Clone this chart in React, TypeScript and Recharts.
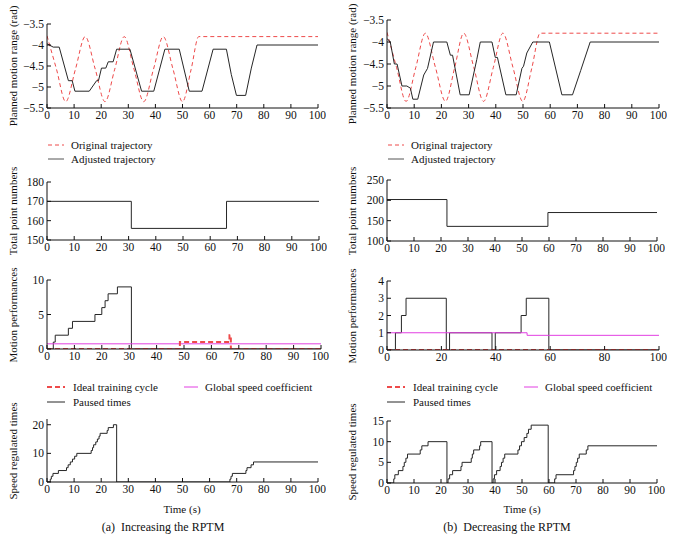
import React from 'react';
import { LineChart, Line, XAxis, YAxis } from 'recharts';

// ---- planned motion range (rad) ----
const leftOrigT = [0, 3.5, 6.9, 10.5, 14.1, 17.8, 21.4, 25, 28.5, 32.1, 35.7, 39.3, 42.9, 46.5, 50, 53.2, 56, 100];
const leftOrigV = [-3.78, -4.575, -5.35, -4.575, -3.8, -4.575, -5.35, -4.575, -3.8, -4.575, -5.35, -4.575, -3.8, -4.575, -5.35, -4.575, -3.8, -3.8];
const leftAdjT = [0, 2.3, 4.5, 7.9, 9.3, 10.3, 15.6, 18.3, 19, 20.1, 21.7, 22.6, 24.4, 25.7, 30.6, 34.9, 39.4, 43.5, 48.8, 52.5, 57.2, 61.3, 66.2, 68, 69.9, 73.3, 75.4, 77.5, 100];
const leftAdjV = [-3.97, -4.05, -4.05, -4.85, -4.85, -5.1, -5.1, -4.85, -4.85, -4.55, -4.55, -4.4, -4.4, -4.1, -4.1, -5.1, -5.1, -4.1, -4.1, -5.1, -5.1, -4.1, -4.1, -4.7, -5.2, -5.2, -4.55, -4.0, -4.0];

const rightOrigT = [0, 3.5, 7, 10.6, 14.1, 17.8, 21.5, 24.9, 28.2, 31.9, 35.5, 39.1, 42.6, 46.3, 49.9, 53.3, 56.3, 100];
const rightOrigV = [-3.78, -4.575, -5.35, -4.575, -3.8, -4.575, -5.35, -4.575, -3.8, -4.575, -5.35, -4.575, -3.8, -4.575, -5.35, -4.575, -3.8, -3.8];
const rightAdjT = [0, 1.2, 2.7, 3.7, 5.5, 7.3, 8.6, 9.5, 11.3, 13.5, 14.9, 17.1, 22, 23.3, 24.1, 26.9, 30.2, 33, 34.3, 38.6, 39.8, 40.6, 43.7, 47.5, 49.6, 50.2, 51.4, 53.6, 59.7, 64.3, 68.2, 71.2, 74.7, 100];
const rightAdjV = [-3.92, -4.0, -4.5, -4.5, -5.0, -5.0, -5.05, -5.3, -5.3, -4.75, -4.6, -4.0, -4.0, -4.3, -4.3, -5.2, -5.2, -4.4, -4.0, -4.0, -4.35, -4.35, -5.2, -5.2, -4.6, -4.55, -4.25, -4.0, -4.0, -5.2, -5.2, -4.65, -4.0, -4.0];

// ---- total point numbers ----
const leftPointsT = [0, 31, 66, 100];
const leftPointsV = [170, 156, 170, 170];
const rightPointsT = [0, 22.2, 59.6, 100];
const rightPointsV = [202, 136, 170, 170];

// ---- motion performances ----
const leftPausedT = [0, 2.3, 3, 7.8, 9.3, 17.5, 20, 21.2, 22.3, 25.7, 30.8, 100];
const leftPausedV = [0, 1, 2, 3, 4, 5, 6, 7, 8, 9, 0, 0];
const leftIdealT = [0, 48.5, 66.6, 67.1, 100];
const leftIdealV = [0, 1, 2, 0, 0];
const leftGlobalT = [0, 100];
const leftGlobalV = [0.75, 0.75];

const rightPausedT = [0, 3.1, 5.3, 7, 21.8, 23, 38.6, 39.8, 49.3, 51.2, 59.5, 100];
const rightPausedV = [0, 1, 2, 3, 0, 1, 0, 1, 2, 3, 0, 0];
const rightIdealT = [0, 100];
const rightIdealV = [0, 0];
const rightGlobalT = [0, 51.5, 100];
const rightGlobalV = [1, 0.85, 0.85];

// ---- speed regulated times ----
const leftSpeedT = [0, 1.2, 1.6, 2.2, 4.2, 7.2, 7.8, 8.6, 9.4, 10.2, 11, 16.3, 16.8, 17.2, 18, 18.6, 19.2, 19.6, 22.2, 22.6, 24.5, 25.7, 67.5, 67.9, 68.4, 73.4, 73.8, 75.3, 76.2, 100];
const leftSpeedV = [0, 1, 2, 3, 4, 5, 6, 7, 8, 9, 10, 11, 12, 13, 14, 15, 16, 17, 18, 19, 20, 0, 1, 2, 3, 4, 5, 6, 7, 7];
const rightSpeedT = [0, 2.5, 2.9, 4.2, 5.9, 6.4, 7.0, 7.6, 12.3, 12.9, 15.2, 22.2,
  22.6, 23.2, 24.3, 27.4, 27.8, 31.2, 31.6, 32.1, 34.3, 34.7, 38.9,
  39.3, 39.8, 40.6, 41.9, 42.4, 43, 43.6, 48.5, 49.1, 49.8, 50.8, 51.8, 52.4, 53.4, 59.7,
  62.1, 62.6, 69.1, 69.6, 70.1, 70.6, 71.2, 73.8, 74.4, 100];
const rightSpeedV = [0, 1, 2, 3, 4, 5, 6, 7, 8, 9, 10, 0,
  1, 2, 3, 4, 5, 6, 7, 8, 9, 10, 0,
  1, 2, 3, 4, 5, 6, 7, 8, 9, 10, 11, 12, 13, 14, 0,
  1, 2, 3, 4, 5, 6, 7, 8, 9, 9];

const xTicks10 = [0, 10, 20, 30, 40, 50, 60, 70, 80, 90, 100];
const xTicks20 = [0, 20, 40, 60, 80, 100];

const FONT = '"Liberation Serif", "DejaVu Serif", serif';
const RED = '#ee4a4a';
const MAGENTA = '#e23fe2';
const DARK = '#262626';

const zip = (t: number[], v: number[]) => t.map((x, i) => ({ t: x, v: v[i] }));
const fmt = (v: number) => String(v).replace('-', '\u2212');

interface Series {
  data: { t: number; v: number }[];
  stroke: string;
  width?: number;
  dash?: string;
  type?: 'linear' | 'monotone' | 'stepAfter';
}

interface PanelProps {
  left: number; top: number; w: number; h: number;
  yDomain: [number, number]; yTicks: number[]; xTicks: number[];
  yLabel: string; labelX: number; series: Series[];
}

const tickStyle = { fontSize: 11.5, fill: '#111', fontFamily: FONT };

const Panel: React.FC<PanelProps> = ({ left, top, w, h, yDomain, yTicks, xTicks, yLabel, labelX, series }) => (
  <>
    <div style={{ position: 'absolute', left: left - 45, top: top - 8 }}>
      <LineChart width={w + 53} height={h + 30} margin={{ top: 8, right: 8, bottom: 0, left: 0 }}>
        <XAxis type="number" dataKey="t" domain={[0, 100]} ticks={xTicks} height={22}
          tickSize={-4} tickMargin={7} tick={tickStyle} stroke="#111" allowDataOverflow />
        <XAxis xAxisId="top" orientation="top" type="number" dataKey="t" domain={[0, 100]} ticks={xTicks}
          height={0} tickSize={-4} tick={false} stroke="#111" />
        <YAxis type="number" domain={yDomain} ticks={yTicks} width={45} tickSize={-4} tickMargin={7}
          tick={tickStyle} tickFormatter={fmt} stroke="#111" allowDataOverflow />
        <YAxis yAxisId="r" orientation="right" type="number" domain={yDomain} ticks={yTicks} width={0}
          tickSize={-4} tick={false} stroke="#111" />
        {series.map((s, i) => (
          <Line key={i} data={s.data} dataKey="v" type={s.type || 'linear'} stroke={s.stroke}
            strokeWidth={s.width || 1} strokeDasharray={s.dash} dot={false} activeDot={false}
            isAnimationActive={false} />
        ))}
      </LineChart>
    </div>
    <div style={{
      position: 'absolute', left: labelX - 100, top: top + h / 2 - 8, width: 200, height: 16,
      textAlign: 'center', transform: 'rotate(-90deg)', fontSize: 11, lineHeight: '16px', color: '#111',
    }}>{yLabel}</div>
  </>
);

const LegendItem: React.FC<{ x: number; y: number; len: number; color: string; dash?: string; width?: number; label: string; gap: number }> =
  ({ x, y, len, color, dash, width = 1, label, gap }) => (
    <div style={{ position: 'absolute', left: x, top: y - 8, height: 16, display: 'flex', alignItems: 'center', whiteSpace: 'nowrap' }}>
      <svg width={len} height={16} style={{ display: 'block' }}>
        <line x1={0} y1={8} x2={len} y2={8} stroke={color} strokeWidth={width} strokeDasharray={dash} />
      </svg>
      <span style={{ marginLeft: gap, fontSize: 11, color: '#111' }}>{label}</span>
    </div>
  );

const Text: React.FC<{ cx: number; y: number; size: number; children: React.ReactNode }> = ({ cx, y, size, children }) => (
  <div style={{ position: 'absolute', left: cx - 150, width: 300, top: y - 9, height: 18, lineHeight: '18px', textAlign: 'center', fontSize: size, color: '#111', whiteSpace: 'pre' }}>{children}</div>
);

export default function App() {
  return (
    <div style={{ position: 'absolute', left: 0, top: 0, width: 676, height: 553, background: '#fff', fontFamily: FONT, overflow: 'hidden' }}>
      {/* column (a) */}
      <Panel left={47} top={24} w={271} h={84} yDomain={[-5.5, -3.5]} yTicks={[-5.5, -5, -4.5, -4, -3.5]} xTicks={xTicks10}
        yLabel="Planned motion range (rad)" labelX={13}
        series={[
          { data: zip(leftOrigT, leftOrigV), stroke: RED, dash: '4 3', type: 'monotone' },
          { data: zip(leftAdjT, leftAdjV), stroke: DARK },
        ]} />
      <LegendItem x={48} y={145} len={16} color={RED} dash="4 3" label="Original trajectory" gap={7} />
      <LegendItem x={48} y={159} len={16} color="#555" label="Adjusted trajectory" gap={7} />

      <Panel left={47} top={182} w={272} h={58} yDomain={[150, 180]} yTicks={[150, 160, 170, 180]} xTicks={xTicks10}
        yLabel="Total point numbers" labelX={13}
        series={[{ data: zip(leftPointsT, leftPointsV), stroke: DARK, type: 'stepAfter' }]} />

      <Panel left={47} top={280} w={274} h={69} yDomain={[0, 10]} yTicks={[0, 5, 10]} xTicks={xTicks10}
        yLabel="Motion performances" labelX={13}
        series={[
          { data: zip(leftPausedT, leftPausedV), stroke: DARK, type: 'stepAfter' },
          { data: zip(leftGlobalT, leftGlobalV), stroke: MAGENTA, type: 'stepAfter' },
          { data: zip(leftIdealT, leftIdealV), stroke: RED, width: 2, dash: '5 3', type: 'stepAfter' },
        ]} />
      <LegendItem x={47} y={387} len={18} color={RED} dash="5 3" width={2} label="Ideal training cycle" gap={8} />
      <LegendItem x={184} y={387} len={14} color={MAGENTA} label="Global speed coefficient" gap={7} />
      <LegendItem x={47} y={402} len={18} color={DARK} label="Paused times" gap={8} />

      <Panel left={47} top={419} w={271} h={63} yDomain={[0, 22]} yTicks={[0, 10, 20]} xTicks={xTicks10}
        yLabel="Speed regulated times" labelX={13}
        series={[{ data: zip(leftSpeedT, leftSpeedV), stroke: DARK, type: 'stepAfter' }]} />
      <Text cx={182} y={509} size={11}>Time (s)</Text>
      <Text cx={163} y={527} size={12}>{'(a)  Increasing the RPTM'}</Text>

      {/* column (b) */}
      <Panel left={387} top={20} w={272} h={88} yDomain={[-5.5, -3.5]} yTicks={[-5.5, -5, -4.5, -4, -3.5]} xTicks={xTicks10}
        yLabel="Planned motion range (rad)" labelX={352}
        series={[
          { data: zip(rightOrigT, rightOrigV), stroke: RED, dash: '4 3', type: 'monotone' },
          { data: zip(rightAdjT, rightAdjV), stroke: DARK },
        ]} />
      <LegendItem x={388} y={145} len={16} color={RED} dash="4 3" label="Original trajectory" gap={7} />
      <LegendItem x={388} y={159} len={16} color="#555" label="Adjusted trajectory" gap={7} />

      <Panel left={387} top={180} w={270} h={61} yDomain={[100, 250]} yTicks={[100, 150, 200, 250]} xTicks={xTicks10}
        yLabel="Total point numbers" labelX={352}
        series={[{ data: zip(rightPointsT, rightPointsV), stroke: DARK, type: 'stepAfter' }]} />

      <Panel left={387} top={281} w={272} h={69} yDomain={[0, 4]} yTicks={[0, 1, 2, 3, 4]} xTicks={xTicks20}
        yLabel="Motion performances" labelX={352}
        series={[
          { data: zip(rightPausedT, rightPausedV), stroke: DARK, type: 'stepAfter' },
          { data: zip(rightGlobalT, rightGlobalV), stroke: MAGENTA, type: 'stepAfter' },
          { data: zip(rightIdealT, rightIdealV), stroke: RED, width: 2, dash: '5 3', type: 'stepAfter' },
        ]} />
      <LegendItem x={387} y={387} len={18} color={RED} dash="5 3" width={2} label="Ideal training cycle" gap={8} />
      <LegendItem x={524} y={387} len={14} color={MAGENTA} label="Global speed coefficient" gap={7} />
      <LegendItem x={387} y={402} len={18} color={DARK} label="Paused times" gap={8} />

      <Panel left={387} top={421} w={270} h={62} yDomain={[0, 15]} yTicks={[0, 5, 10, 15]} xTicks={xTicks10}
        yLabel="Speed regulated times" labelX={352}
        series={[{ data: zip(rightSpeedT, rightSpeedV), stroke: DARK, type: 'stepAfter' }]} />
      <Text cx={522} y={509} size={11}>Time (s)</Text>
      <Text cx={507} y={527} size={12}>{'(b)  Decreasing the RPTM'}</Text>
    </div>
  );
}
